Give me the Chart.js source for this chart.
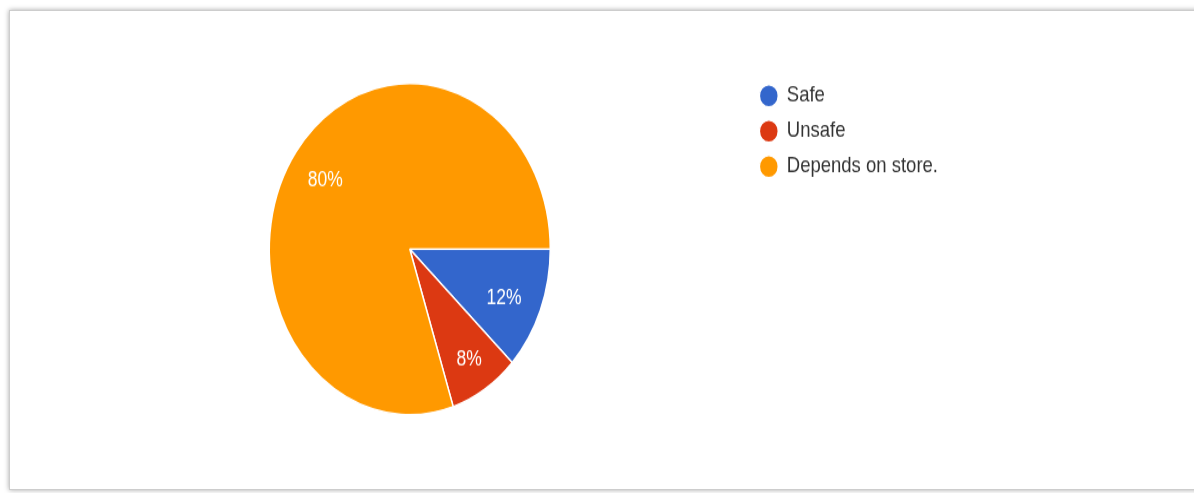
<!DOCTYPE html>
<html>
<head>
<meta charset="utf-8">
<script src="https://cdn.jsdelivr.net/npm/chart.js@4"></script>
<style>
  html, body { margin: 0; padding: 0; background: #fff; }
  body { width: 1194px; height: 493px; position: relative; overflow: hidden; }
  .frame {
    position: absolute; left: 9px; top: 10px; width: 1190px; height: 478px;
    border: 1px solid #cdcdcd;
    box-shadow: 0 0 5px rgba(0, 0, 0, 0.35);
    background: #fff;
  }
  /* the chart is drawn 418px high and stretched to fill the frame */
  .chart-box {
    position: absolute; left: 0; top: 0; width: 1194px; height: 418px;
    transform: scaleY(1.179); transform-origin: 0 0;
  }
</style>
</head>
<body>
<div class="frame"></div>
<div class="chart-box"><canvas id="pie"></canvas></div>
<script>
const labels = ['Safe', 'Unsafe', 'Depends on store.'];
const shares = [12, 8, 80];
const colors = ['#3366cc', '#dc3912', '#ff9900'];

// percent text inside each slice
const sliceLabels = {
  id: 'sliceLabels',
  afterDatasetsDraw(chart, args, opts) {
    const ctx = chart.ctx;
    const meta = chart.getDatasetMeta(0);
    const total = shares.reduce((a, b) => a + b, 0);
    ctx.save();
    ctx.fillStyle = opts.color;
    ctx.font = opts.font;
    ctx.textAlign = 'center';
    ctx.textBaseline = 'middle';
    meta.data.forEach((arc, i) => {
      const p = arc.getProps(['x', 'y', 'startAngle', 'endAngle', 'outerRadius'], true);
      let ang = (p.startAngle + p.endAngle) / 2;
      if (opts.angles[i] !== undefined) ang = opts.angles[i];
      const r = p.outerRadius * opts.dist[i];
      const txt = Math.round(shares[i] / total * 100) + '%';
      ctx.fillText(txt, p.x + Math.cos(ang) * r, p.y + Math.sin(ang) * r);
    });
    ctx.restore();
  }
};

new Chart(document.getElementById('pie'), {
  type: 'pie',
  data: {
    labels: labels,
    datasets: [{
      data: shares,
      backgroundColor: colors,
      borderColor: '#ffffff',
      borderWidth: 1.5,
      radius: 140.5
    }]
  },
  options: {
    responsive: true,
    maintainAspectRatio: false,
    animation: false,
    rotation: 90,
    layout: { padding: { top: 60.5, left: 71, right: 246, bottom: 56 } },
    plugins: {
      tooltip: { enabled: false },
      legend: {
        position: 'right',
        align: 'start',
        labels: {
          usePointStyle: true,
          pointStyle: 'circle',
          boxWidth: 17.5,
          boxHeight: 13.4,
          padding: 11.5,
          color: '#333',
          font: { family: '"Liberation Sans", Arial, sans-serif', size: 18.5 }
        }
      },
      sliceLabels: {
        color: '#ffffff',
        font: '17.5px "Liberation Sans", Arial, sans-serif',
        dist: [0.735, 0.79, 0.73],
        angles: [0.42, undefined, -145.5 * Math.PI / 180]
      }
    }
  },
  plugins: [sliceLabels]
});
</script>
</body>
</html>
